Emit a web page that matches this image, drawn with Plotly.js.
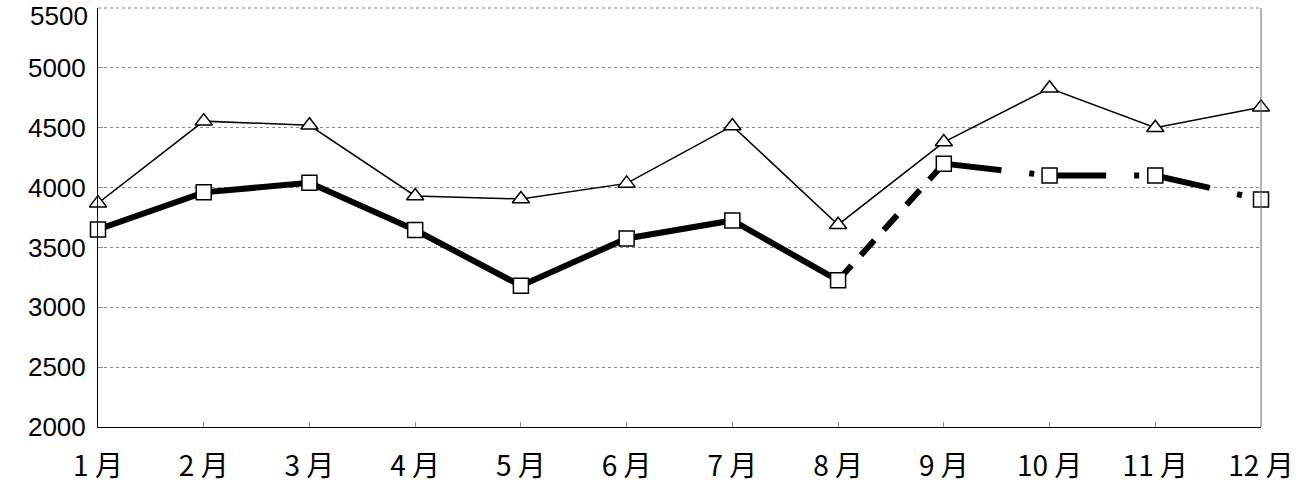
<html><head><script src="https://cdn.plot.ly/plotly-3.0.1.min.js"></script></head><body style="margin:0">
<div id="c" style="width:1296px;height:486px"></div>
<script>
const months=['1 月','2 月','3 月','4 月','5 月','6 月','7 月','8 月','9 月','10 月','11 月','12 月'];
const seriesA=[3650,3960,4040,3645,3180,3575,3725,3225,4200,4100,4100,3900];
const seriesB=[3870,4555,4520,3930,3905,4035,4515,3690,4380,4830,4500,4670];
const yTicks=[2000,2500,3000,3500,4000,4500,5000];
const idx=months.map((m,i)=>i);
const sl=(a,s,e)=>a.slice(s,e);
const traces=[
 {x:idx,y:seriesB,mode:'lines+markers',line:{color:'#000',width:1.5},marker:{symbol:'triangle-up',size:15,color:'#fff',line:{color:'#000',width:1.5}},cliponaxis:false},
 {x:sl(idx,0,8),y:sl(seriesA,0,8),mode:'lines',line:{color:'#000',width:6}},
 {x:sl(idx,7,9),y:sl(seriesA,7,9),mode:'lines',line:{color:'#000',width:6,dash:'20px,14px'}},
 {x:sl(idx,8,12),y:sl(seriesA,8,12),mode:'lines',line:{color:'#000',width:6,dash:'58px,28px,5px,14px'}},
 {x:idx,y:seriesA,mode:'markers',marker:{symbol:'square',size:15,color:'#fff',line:{color:'#000',width:1.5}},cliponaxis:false}
];
Plotly.newPlot('c',traces,{
 width:1296,height:486,margin:{l:98,r:35,t:8,b:59},showlegend:false,
 paper_bgcolor:'#fff',plot_bgcolor:'#fff',
 font:{family:'Noto Sans CJK JP, sans-serif',color:'#000'},
 xaxis:{range:[0,11],tickvals:idx,ticktext:months,showgrid:false,zeroline:false,showline:true,linecolor:'#000',ticks:'inside',ticklen:5,tickcolor:'#888',tickfont:{size:28,family:'Noto Sans CJK JP'},ticklabelstandoff:14},
 yaxis:{range:[2000,5500],tickvals:yTicks,showgrid:true,gridcolor:'#888',griddash:'dot',gridwidth:1,zeroline:false,showline:true,linecolor:'#000',ticks:'inside',ticklen:5,tickcolor:'#888',tickfont:{size:26,family:'Liberation Sans, Arial'},ticklabelstandoff:6},
 shapes:[{type:'line',xref:'paper',yref:'paper',x0:1,x1:1,y0:0,y1:1,line:{color:'#666',width:1}},
  {type:'line',xref:'paper',yref:'paper',x0:0,x1:1,y0:1,y1:1,line:{color:'#888',width:1,dash:'dot'}}],
 annotations:[{xref:'paper',yref:'paper',x:0,y:1,xanchor:'right',yanchor:'top',xshift:-8,yshift:9,text:'5500',showarrow:false,font:{size:26,family:'Liberation Sans, Arial'}}]
},{displayModeBar:false});
</script></body></html>
